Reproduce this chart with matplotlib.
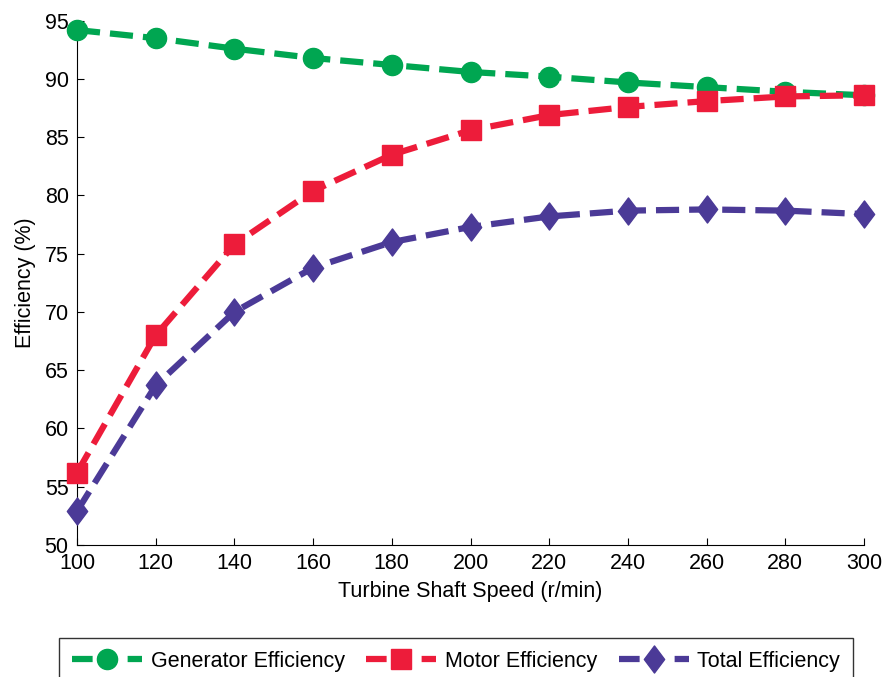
import matplotlib
matplotlib.use("Agg")
import matplotlib.pyplot as plt
from matplotlib.path import Path
from matplotlib.lines import Line2D

plt.rcParams["font.family"] = ["Liberation Sans", "DejaVu Sans"]

speed = [100, 120, 140, 160, 180, 200, 220, 240, 260, 280, 300]
generator_eff = [94.2, 93.5, 92.6, 91.8, 91.2, 90.6, 90.2, 89.7, 89.3, 88.9, 88.6]
motor_eff = [56.2, 68.0, 75.8, 80.4, 83.5, 85.6, 86.9, 87.6, 88.1, 88.5, 88.6]
total_eff = [52.9, 63.7, 70.0, 73.8, 76.0, 77.3, 78.2, 78.7, 78.8, 78.7, 78.4]

x_ticks = [100, 120, 140, 160, 180, 200, 220, 240, 260, 280, 300]
y_ticks = [50, 55, 60, 65, 70, 75, 80, 85, 90, 95]

green = "#00a651"
red = "#ed1c3a"
purple = "#4b3a97"

# narrow diamond, taller than wide
diamond = Path([(0, 1), (0.75, 0), (0, -1), (-0.75, 0), (0, 1)],
               [Path.MOVETO, Path.LINETO, Path.LINETO, Path.LINETO, Path.CLOSEPOLY])

fs = 15.5
lw = 4.5
series = [
    (generator_eff, green, "o", 14.5, "Generator Efficiency", 3),
    (motor_eff, red, "s", 14.5, "Motor Efficiency", 4),
    (total_eff, purple, diamond, 19.5, "Total Efficiency", 5),
]

fig = plt.figure(figsize=(8.82, 6.77), dpi=100)
ax = fig.add_axes([0.0873, 0.195, 0.8923, 0.7744])

handles = []
for values, color, marker, ms, label, z in series:
    ax.plot(speed, values, "--", color=color, lw=lw, marker=marker, ms=ms,
            clip_on=False, zorder=z)
    # legend key: dash, marker, dash
    handles.append(Line2D([], [], color=color, lw=lw, marker=marker, ms=ms,
                          dashes=[3.3, 5.6, 2.3, 3], label=label))

ax.set_xlim(100, 300)
ax.set_ylim(50, 95)
ax.set_xticks(x_ticks)
ax.set_yticks(y_ticks)
ax.tick_params(direction="in", length=5, labelsize=fs, pad=6)
ax.spines["top"].set_visible(False)
ax.spines["right"].set_visible(False)

ax.set_xlabel("Turbine Shaft Speed (r/min)", fontsize=fs, labelpad=5)
ax.set_ylabel("Efficiency (%)", fontsize=fs, labelpad=6)

leg = fig.legend(handles=handles, loc="upper center", bbox_to_anchor=(0.517, 0.058),
                 ncol=3, fontsize=fs, frameon=True, fancybox=False, edgecolor="black",
                 handlelength=3.25, columnspacing=1.0, handletextpad=0.4,
                 borderpad=0.6, borderaxespad=0)
leg.get_frame().set_linewidth(1.0)

fig.savefig("out.png", dpi=100)
